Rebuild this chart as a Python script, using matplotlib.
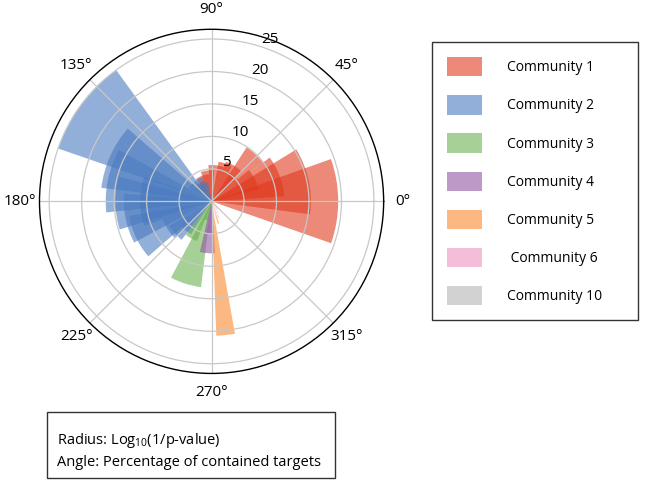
import numpy as np
import matplotlib
matplotlib.use("Agg")
import matplotlib.pyplot as plt
from matplotlib.patches import Patch, Rectangle

plt.rcParams['font.family'] = ['Open Sans', 'DejaVu Sans']
plt.rcParams['mathtext.default'] = 'regular'

# each bar: start angle (deg), end angle (deg), log10(1/p)
c1_lo = [-19.3, -7.5, 4, 37, 14, 40, 45, 60, 70, 85, 95, 110]
c1_hi = [19.5, 31.5, 37, 57, 40, 60, 70, 80, 95, 110, 125, 135]
c1_r = [19.5, 15.3, 11.2, 9.9, 7.5, 5.2, 6.5, 6.2, 5.6, 4.8, 4.2, 3.4]

c2_lo = [126, 139, 151, 165, 175, 190, 160, 200, 210, 220, 100, 110]
c2_hi = [161, 173, 186, 197, 208, 221, 200, 225, 232, 238, 140, 150]
c2_r = [25.0, 17.1, 16.3, 14.8, 13.5, 12.9, 11.0, 8.0, 7.5, 6.0, 3.0, 4.0]

c3_lo = [242, 232, 245]
c3_hi = [263, 250, 258]
c3_r = [13.3, 6.5, 3.0]

c4_lo = [257, 262]
c4_hi = [274, 271]
c4_r = [8.0, 5.0]

c5_lo = [272, 285.5]
c5_hi = [280, 289]
c5_r = [20.7, 3.6]

c6_lo = [292, 300]
c6_hi = [295, 302]
c6_r = [2.8, 2.2]

c10_lo = [305]
c10_hi = [309]
c10_r = [1.5]

labels = ['Community 1', 'Community 2', 'Community 3', 'Community 4',
          'Community 5', ' Community 6', 'Community 10']
colors = ['#E03A1E', '#4A7BC0', '#69B150', '#9155A3', '#FA8A2F', '#EE93C1', '#B4B4B4']
groups = [(c1_lo, c1_hi, c1_r), (c2_lo, c2_hi, c2_r), (c3_lo, c3_hi, c3_r),
          (c4_lo, c4_hi, c4_r), (c5_lo, c5_hi, c5_r), (c6_lo, c6_hi, c6_r),
          (c10_lo, c10_hi, c10_r)]

fig = plt.figure(figsize=(6.47, 4.8), dpi=100)
ax = fig.add_axes([0.061, 0.222, 0.532, 0.717], projection='polar')

for (lo, hi, r), col in zip(groups, colors):
    lo = np.radians(lo)
    hi = np.radians(hi)
    ax.bar((lo + hi) / 2, r, width=hi - lo, bottom=0, color=col, alpha=0.6, linewidth=0)

ax.set_ylim(0, 26.5)
ax.set_rgrids([5, 10, 15, 20, 25], fontsize=11)
ax.set_rlabel_position(72)
ax.set_thetagrids(np.arange(0, 360, 45), fontsize=11)
ax.grid(color='#c8c8c8', linewidth=0.9)
ax.spines['polar'].set_linewidth(1.0)

handles = [Patch(facecolor=c, alpha=0.6, edgecolor='none') for c in colors]
fig.legend(handles, labels, loc='upper left', bbox_to_anchor=(0.668, 0.9125, 0.318, 0.0),
           mode='expand', fontsize=10, frameon=True, fancybox=False, edgecolor='#333333',
           framealpha=1, handlelength=2.45, handleheight=1.75, handletextpad=1.85,
           labelspacing=1.36, borderpad=1.1, borderaxespad=0)

fig.patches.append(Rectangle((0.0726, 0.004), 0.445, 0.1375, transform=fig.transFigure,
                             facecolor='white', edgecolor='#333333', linewidth=1))
fig.text(0.088, 0.061, 'Radius: Log$_{10}$(1/p-value)\nAngle: Percentage of contained targets',
         fontsize=10.5, va='center', ha='left', linespacing=1.5)

fig.savefig('out.png', dpi=100)
